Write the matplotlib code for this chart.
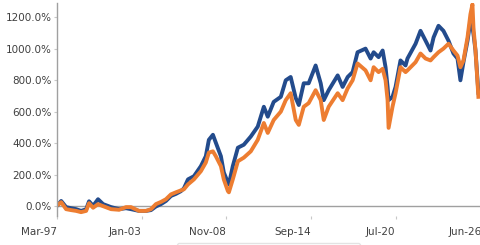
import matplotlib
matplotlib.use("Agg")
import matplotlib.pyplot as plt
import matplotlib.ticker as mticker

# Time axis in decimal years
years = [1997.24, 1997.45, 1997.79, 1998.13, 1998.48, 1998.82, 1999.17, 1999.37, 1999.65,
         1999.99, 2000.34, 2000.89, 2001.44, 2001.92, 2002.26, 2002.81, 2003.30, 2003.64,
         2003.98, 2004.33, 2004.67, 2005.02, 2005.36, 2005.70, 2005.91, 2006.19, 2006.60,
         2007.08, 2007.42, 2007.63, 2007.91, 2008.11, 2008.46, 2008.66, 2008.94, 2009.01,
         2009.28, 2009.63, 2010.04, 2010.52, 2011.00, 2011.42, 2011.69, 2012.10, 2012.59,
         2012.93, 2013.27, 2013.62, 2013.83, 2014.17, 2014.51, 2014.99, 2015.34, 2015.55,
         2015.89, 2016.51, 2016.85, 2017.20, 2017.54, 2017.88, 2018.43, 2018.78, 2018.99,
         2019.33, 2019.61, 2019.81, 2019.95, 2020.02, 2020.29, 2020.50, 2020.84, 2021.19,
         2021.32, 2021.88, 2022.22, 2022.57, 2022.91, 2023.12, 2023.46, 2023.80, 2024.15,
         2024.49, 2024.77, 2024.97, 2025.18, 2025.46, 2025.66, 2025.80, 2025.87, 2026.01,
         2026.21]

# Cumulative return (%)
blue_series = [10, 33, -6, -13, -19, -30, -20, 31, 2,
               44, 13, -6, -19, -13, -19, -30, -30, -25,
               -2, 13, 33, 65, 78, 95, 113, 170, 190,
               254, 317, 421, 453, 403, 317, 214, 151, 138,
               254, 371, 390, 442, 505, 631, 568, 662, 694,
               799, 820, 686, 642, 780, 780, 893, 780, 673,
               736, 830, 757, 820, 851, 977, 1000, 937, 977,
               946, 988, 882, 757, 673, 694, 757, 925, 893,
               937, 1031, 1113, 1050, 988, 1071, 1145, 1113, 1050,
               969, 937, 799, 914, 1050, 1176, 1134, 1094, 988,
               720]

orange_series = [10, 25, -19, -25, -30, -38, -30, 19, -10,
                 13, 0, -19, -23, -6, -6, -30, -30, -19,
                 13, 27, 44, 75, 88, 100, 107, 138, 170,
                 222, 277, 340, 348, 317, 254, 170, 96, 88,
                 170, 285, 308, 348, 421, 528, 465, 547, 600,
                 673, 717, 547, 516, 631, 654, 736, 673, 547,
                 631, 717, 673, 748, 799, 906, 862, 799, 882,
                 851, 872, 799, 673, 497, 631, 717, 882, 851,
                 862, 914, 969, 937, 925, 946, 977, 1000, 1031,
                 988, 956, 882, 925, 1071, 1218, 1281, 1134, 988,
                 694]

tick_years = [1997.17, 2003.00, 2008.83, 2014.67, 2020.50, 2026.42]
tick_labels = ["Mar-97", "Jan-03", "Nov-08", "Sep-14", "Jul-20", "Jun-26"]
y_ticks = [0, 200, 400, 600, 800, 1000, 1200]
legend_labels = ["Portfolio", "Benchmark"]

fig = plt.figure(figsize=(4.8, 2.45), dpi=100)
ax = fig.add_axes([0.119, 0.118, 0.884, 0.870])

ax.plot(years, blue_series, color="#234b8c", lw=2.8, label=legend_labels[0],
        solid_joinstyle="round")
ax.plot(years, orange_series, color="#ed7d31", lw=2.8, label=legend_labels[1],
        solid_joinstyle="round")

ax.axhline(0, color="#a0a0a0", lw=1.0, zorder=0)
ax.set_xlim(1997.17, 2026.42)
ax.set_ylim(-63, 1290)

ax.set_xticks(tick_years)
ax.set_xticklabels(tick_labels, ha="right")
ax.set_yticks(y_ticks)
ax.yaxis.set_major_formatter(mticker.FuncFormatter(lambda v, p: f"{v:.1f}%"))

for s in ["top", "right", "bottom"]:
    ax.spines[s].set_visible(False)
ax.spines["left"].set_color("#a0a0a0")
ax.spines["left"].set_linewidth(1.0)

ax.tick_params(axis="both", labelsize=7.5, labelcolor="#404040",
               color="#c8c8c8", length=2, width=0.8)
ax.tick_params(axis="x", pad=6)
ax.tick_params(axis="y", pad=2)

fig.legend(loc="upper center", bbox_to_anchor=(0.56, 0.025), ncol=2,
           fontsize=6.5, frameon=True, edgecolor="#dddddd", handlelength=3,
           labelcolor="#404040")

fig.savefig("out.png", dpi=100)
